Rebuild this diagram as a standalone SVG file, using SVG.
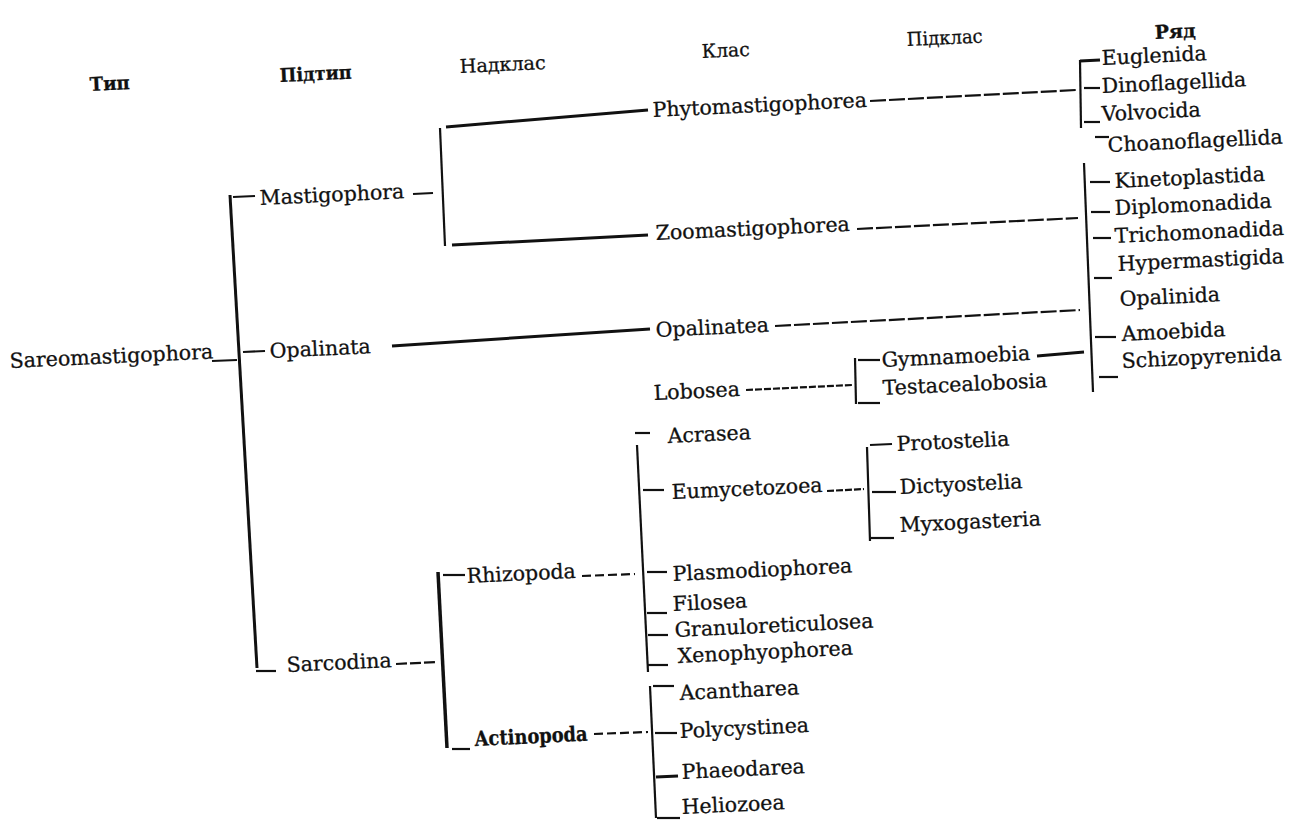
<svg xmlns="http://www.w3.org/2000/svg" width="1294" height="821" viewBox="0 0 1294 821">
<style>
.t{font-family:"DejaVu Serif","Liberation Serif",serif;font-size:20.5px;fill:#111;stroke:#111;stroke-width:0.3}
.h{font-family:"DejaVu Serif","Liberation Serif",serif;font-size:19px;fill:#111;stroke:#111;stroke-width:0.3}
.b{font-weight:bold}
.c{fill:none;stroke:#111;stroke-width:2.2;stroke-linecap:butt}
.k{stroke-width:3}
.d1{stroke-dasharray:16 3}
.d2{stroke-dasharray:7 2}
.d3{stroke-dasharray:9 4}
.d4{stroke-dasharray:11 3}
</style>
<rect width="1294" height="821" fill="#fff"/>
<g id="headers">
<text class="h b" x="90" y="91" textLength="40" lengthAdjust="spacingAndGlyphs" transform="rotate(-2.7 90 91)">Тип</text>
<text class="h b" x="280" y="82" textLength="72" lengthAdjust="spacingAndGlyphs" transform="rotate(-2.7 280 82)">Підтип</text>
<text class="h" x="460" y="73" textLength="86" lengthAdjust="spacingAndGlyphs" transform="rotate(-2.7 460 73)">Надклас</text>
<text class="h" x="702" y="58" textLength="48" lengthAdjust="spacingAndGlyphs" transform="rotate(-2.7 702 58)">Клас</text>
<text class="h" x="907" y="46" textLength="76" lengthAdjust="spacingAndGlyphs" transform="rotate(-2.7 907 46)">Підклас</text>
<text class="h b" x="1155" y="39" textLength="41" lengthAdjust="spacingAndGlyphs" transform="rotate(-2.7 1155 39)">Ряд</text>
</g>
<g id="connectors">
<path class="c k" d="M230 195 L257 668"/>
<path class="c" d="M212 361 L237 360"/>
<path class="c" d="M233 197 L255 196"/>
<path class="c" d="M243 352 L265 351"/>
<path class="c" d="M256 671 L276 671"/>
<path class="c" d="M413 194 L433 193"/>
<path class="c" d="M440 128 L445 246"/>
<path class="c k" d="M446 127 L648 110"/>
<path class="c k" d="M452 245 L648 235"/>
<path class="c d1" d="M870 101 L1076 90"/>
<path class="c d1" d="M857 229 L1078 218"/>
<path class="c k" d="M392 346 L650 329"/>
<path class="c d1" d="M775 326 L1080 310"/>
<path class="c" d="M1080 60 L1081 128"/>
<path class="c k" d="M1080 61 L1100 60"/>
<path class="c" d="M1084 88 L1100 88"/>
<path class="c" d="M1084 122 L1100 122"/>
<path class="c" d="M1084 163 L1093 392"/>
<path class="c" d="M1095 137 L1109 137"/>
<path class="c" d="M1090 182 L1110 182"/>
<path class="c" d="M1091 212 L1110 212"/>
<path class="c" d="M1093 238 L1111 238"/>
<path class="c" d="M1094 278 L1112 278"/>
<path class="c" d="M1095 337 L1116 337"/>
<path class="c" d="M1099 377 L1118 377"/>
<path class="c d2" d="M746 390 L852 385"/>
<path class="c" d="M855 358 L856 404"/>
<path class="c" d="M858 360 L880 360"/>
<path class="c k" d="M1037 356 L1084 352"/>
<path class="c" d="M858 403 L880 403"/>
<path class="c" d="M635 433 L650 433"/>
<path class="c" d="M637 445 L648 672"/>
<path class="c" d="M643 490 L664 490"/>
<path class="c d2" d="M827 491 L864 489"/>
<path class="c" d="M867 447 L870 541"/>
<path class="c" d="M870 445 L892 444"/>
<path class="c" d="M872 492 L896 492"/>
<path class="c" d="M871 538 L894 538"/>
<path class="c" d="M647 572 L667 572"/>
<path class="c" d="M647 613 L667 613"/>
<path class="c" d="M648 635 L668 635"/>
<path class="c" d="M648 665 L668 665"/>
<path class="c" d="M443 575 L465 575"/>
<path class="c d3" d="M582 576 L635 574"/>
<path class="c k" d="M438 572 L447 748" style="stroke-width:3.5"/>
<path class="c d4" d="M396 664 L437 662"/>
<path class="c" d="M452 749 L470 749"/>
<path class="c d3" d="M594 734 L648 732"/>
<path class="c" d="M650 686 L656 818"/>
<path class="c" d="M653 686 L674 686"/>
<path class="c" d="M655 733 L677 733"/>
<path class="c k" d="M656 777 L678 776"/>
<path class="c" d="M657 818 L680 818"/>
</g>
<g id="n-sareomastigophora"><text class="t" x="10" y="368" transform="rotate(-2.7 10 368)">Sareomastigophora</text></g>
<g id="n-mastigophora"><text class="t" x="260" y="205" transform="rotate(-2.7 260 205)">Mastigophora</text></g>
<g id="n-opalinata"><text class="t" x="270" y="358" transform="rotate(-2.7 270 358)">Opalinata</text></g>
<g id="n-sarcodina"><text class="t" x="287" y="672" transform="rotate(-2.7 287 672)">Sarcodina</text></g>
<g id="n-rhizopoda"><text class="t" x="467" y="583" transform="rotate(-2.7 467 583)">Rhizopoda</text></g>
<g id="n-actinopoda"><text class="t b" x="475" y="746" textLength="113" lengthAdjust="spacingAndGlyphs" transform="rotate(-2.7 475 746)">Actinopoda</text></g>
<g id="n-phytomastigophorea"><text class="t" x="653" y="117" transform="rotate(-2.7 653 117)">Phytomastigophorea</text></g>
<g id="n-zoomastigophorea"><text class="t" x="656" y="240" transform="rotate(-2.7 656 240)">Zoomastigophorea</text></g>
<g id="n-opalinatea"><text class="t" x="656" y="337" transform="rotate(-2.7 656 337)">Opalinatea</text></g>
<g id="n-lobosea"><text class="t" x="654" y="400" transform="rotate(-2.7 654 400)">Lobosea</text></g>
<g id="n-gymnamoebia"><text class="t" x="882" y="367" transform="rotate(-2.7 882 367)">Gymnamoebia</text></g>
<g id="n-testacealobosia"><text class="t" x="883" y="395" transform="rotate(-2.7 883 395)">Testacealobosia</text></g>
<g id="n-acrasea"><text class="t" x="668" y="443" transform="rotate(-2.7 668 443)">Acrasea</text></g>
<g id="n-eumycetozoea"><text class="t" x="672" y="499" transform="rotate(-2.7 672 499)">Eumycetozoea</text></g>
<g id="n-protostelia"><text class="t" x="897" y="451" transform="rotate(-2.7 897 451)">Protostelia</text></g>
<g id="n-dictyostelia"><text class="t" x="900" y="494" transform="rotate(-2.7 900 494)">Dictyostelia</text></g>
<g id="n-myxogasteria"><text class="t" x="900" y="532" transform="rotate(-2.7 900 532)">Myxogasteria</text></g>
<g id="n-plasmodiophorea"><text class="t" x="673" y="581" transform="rotate(-2.7 673 581)">Plasmodiophorea</text></g>
<g id="n-filosea"><text class="t" x="673" y="611" transform="rotate(-2.7 673 611)">Filosea</text></g>
<g id="n-granuloreticulosea"><text class="t" x="675" y="637" transform="rotate(-2.7 675 637)">Granuloreticulosea</text></g>
<g id="n-xenophyophorea"><text class="t" x="678" y="663" transform="rotate(-2.7 678 663)">Xenophyophorea</text></g>
<g id="n-acantharea"><text class="t" x="680" y="700" transform="rotate(-2.7 680 700)">Acantharea</text></g>
<g id="n-polycystinea"><text class="t" x="680" y="738" transform="rotate(-2.7 680 738)">Polycystinea</text></g>
<g id="n-phaeodarea"><text class="t" x="682" y="779" transform="rotate(-2.7 682 779)">Phaeodarea</text></g>
<g id="n-heliozoea"><text class="t" x="682" y="814" transform="rotate(-2.7 682 814)">Heliozoea</text></g>
<g id="n-euglenida"><text class="t" x="1102" y="65" transform="rotate(-2.7 1102 65)">Euglenida</text></g>
<g id="n-dinoflagellida"><text class="t" x="1102" y="93" transform="rotate(-2.7 1102 93)">Dinoflagellida</text></g>
<g id="n-volvocida"><text class="t" x="1102" y="121" transform="rotate(-2.7 1102 121)">Volvocida</text></g>
<g id="n-choanoflagellida"><text class="t" x="1108" y="152" transform="rotate(-2.7 1108 152)">Choanoflagellida</text></g>
<g id="n-kinetoplastida"><text class="t" x="1115" y="188" transform="rotate(-2.7 1115 188)">Kinetoplastida</text></g>
<g id="n-diplomonadida"><text class="t" x="1115" y="215" transform="rotate(-2.7 1115 215)">Diplomonadida</text></g>
<g id="n-trichomonadida"><text class="t" x="1115" y="243" transform="rotate(-2.7 1115 243)">Trichomonadida</text></g>
<g id="n-hypermastigida"><text class="t" x="1118" y="271" transform="rotate(-2.7 1118 271)">Hypermastigida</text></g>
<g id="n-opalinida"><text class="t" x="1120" y="306" transform="rotate(-2.7 1120 306)">Opalinida</text></g>
<g id="n-amoebida"><text class="t" x="1122" y="341" transform="rotate(-2.7 1122 341)">Amoebida</text></g>
<g id="n-schizopyrenida"><text class="t" x="1122" y="368" transform="rotate(-2.7 1122 368)">Schizopyrenida</text></g>
</svg>
